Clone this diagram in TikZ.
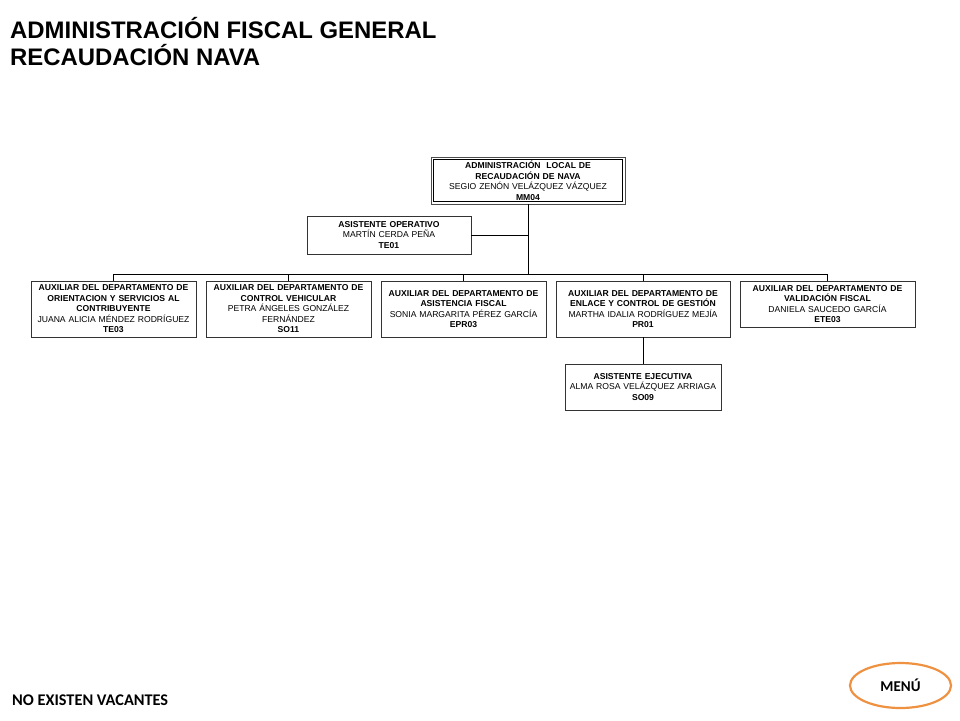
\documentclass[tikz,border=0pt]{standalone}
\usepackage{fontspec}
\setmainfont{Liberation Sans}
\newfontfamily\calibri{Carlito}
\usepackage{xcolor}
\definecolor{menuorange}{RGB}{238,146,66}
\usetikzlibrary{positioning,shapes.geometric}

\begin{document}
\begin{tikzpicture}[x=1pt, y=-1pt,
    puesto/.style={draw=black!80, line width=0.7pt, fill=white, align=center, outer sep=0pt,
      inner xsep=1pt, inner ysep=0pt, font=\fontsize{8.6}{10.5}\selectfont},
    titular/.style={puesto, draw=black!70, line width=0.6pt},
    marco/.style={draw=black, line width=1.2pt},
    linea/.style={draw=black, line width=0.8pt}]

    \useasboundingbox (0,0) rectangle (960,720);

    % === Titulo ===
    \node[anchor=base west, inner sep=0pt, font=\fontsize{23.9}{27}\selectfont\bfseries] (titulo1) at (10,38) {ADMINISTRACIÓN FISCAL GENERAL};
    \node[anchor=base west, inner sep=0pt, font=\fontsize{23.9}{27}\selectfont\bfseries] (titulo2) at (10,65) {RECAUDACIÓN NAVA};

    % === Administracion local ===
    \node[titular, text width=192pt, minimum height=47pt] (adm) at (528,180.5)
      {\textbf{ADMINISTRACIÓN\ \ LOCAL DE}\\\textbf{RECAUDACIÓN DE NAVA}\\SEGIO ZENÓN VELÁZQUEZ VÁZQUEZ\\\textbf{MM04}};
    \draw[marco] ([shift={(2.5pt,-2.5pt)}]adm.north west) rectangle ([shift={(-2.5pt,2.5pt)}]adm.south east);
    \node[puesto, text width=162pt, minimum height=38pt] (asisop) at (389,235)
      {\textbf{ASISTENTE OPERATIVO}\\MARTÍN CERDA PEÑA\\\textbf{TE01}};

    % === Auxiliares ===
    \node[puesto, text width=163pt, minimum height=56pt, anchor=north west] (orient) at (31,281)
      {\textbf{AUXILIAR DEL DEPARTAMENTO DE}\\\textbf{ORIENTACION Y SERVICIOS AL}\\\textbf{CONTRIBUYENTE}\\JUANA ALICIA MÉNDEZ RODRÍGUEZ\\\textbf{TE03}};
    \node[puesto, text width=163pt, minimum height=56pt, right=10pt of orient.north east, anchor=north west] (control)
      {\textbf{AUXILIAR DEL DEPARTAMENTO DE}\\\textbf{CONTROL VEHICULAR}\\PETRA ÁNGELES GONZÁLEZ\\FERNÁNDEZ\\\textbf{SO11}};
    \node[puesto, text width=163pt, minimum height=56pt, right=10pt of control.north east, anchor=north west] (asisfis)
      {\textbf{AUXILIAR DEL DEPARTAMENTO DE}\\\textbf{ASISTENCIA FISCAL}\\SONIA MARGARITA PÉREZ GARCÍA\\\textbf{EPR03}};
    \node[puesto, text width=172pt, minimum height=56pt, right=10pt of asisfis.north east, anchor=north west] (enlace)
      {\textbf{AUXILIAR DEL DEPARTAMENTO DE}\\\textbf{ENLACE Y CONTROL DE GESTIÓN}\\MARTHA IDALIA RODRÍGUEZ MEJÍA\\\textbf{PR01}};
    \node[puesto, text width=173pt, minimum height=46pt, right=10pt of enlace.north east, anchor=north west] (valid)
      {\textbf{AUXILIAR DEL DEPARTAMENTO DE}\\\textbf{VALIDACIÓN FISCAL}\\DANIELA SAUCEDO GARCÍA\\\textbf{ETE03}};
    \node[puesto, text width=154pt, minimum height=46pt, below=27pt of enlace] (asisejec)
      {\textbf{ASISTENTE EJECUTIVA}\\ALMA ROSA VELÁZQUEZ ARRIAGA\\\textbf{SO09}};

    % === Lineas ===
    \coordinate (bus) at (528,274);
    \draw[linea] (adm.south) -- (bus);
    \draw[linea] (asisop.east) -- (asisop.east -| adm.south);
    \foreach \n in {orient,control,asisfis,enlace,valid}
      \draw[linea] (\n.north) |- (bus);
    \draw[linea] (enlace.south) -- (asisejec.north);

    % === Pie ===
    \node[anchor=base west, inner sep=0pt, font=\calibri\fontsize{16.3}{16}\selectfont\bfseries] (vacantes) at (12,705) {NO EXISTEN VACANTES};
    \node[ellipse, draw=menuorange, line width=2.2pt, minimum width=101pt, minimum height=45pt, inner sep=0pt,
      font=\calibri\fontsize{15}{15}\selectfont\bfseries] (menu) at (900.5,685.5) {MENÚ};

\end{tikzpicture}
\end{document}
